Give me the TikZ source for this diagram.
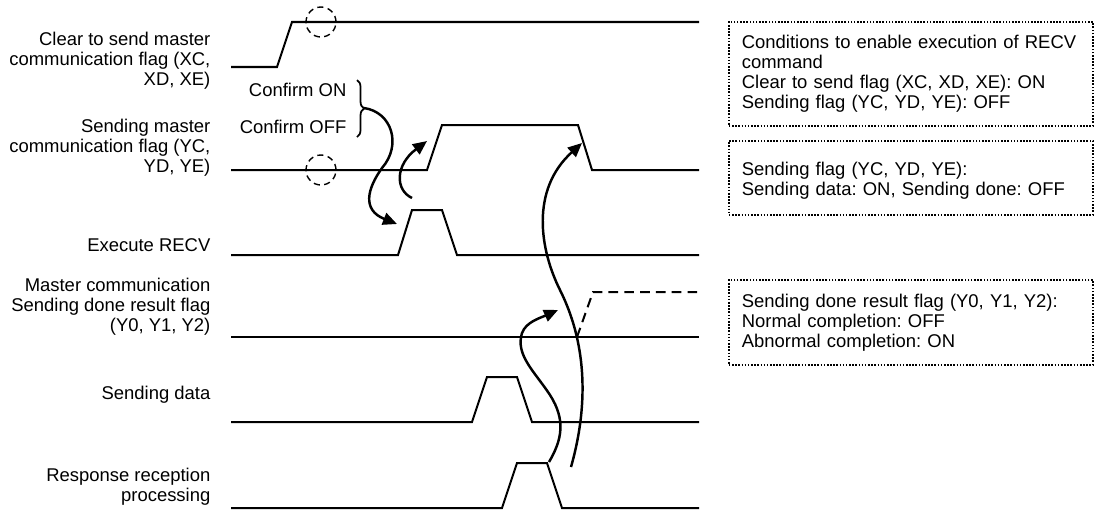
\documentclass[tikz,border=0pt]{standalone}
\usepackage{fontspec}
\setmainfont{Liberation Sans}
\usetikzlibrary{arrows.meta,decorations.pathreplacing,positioning,calc}
\tikzset{every picture/.style={line width=0.75pt}}
\frenchspacing
\tikzset{
  signal/.style={line width=1.15pt, line join=miter},
  flow/.style={line width=1.4pt, -{Triangle[length=8pt,width=7pt]}},
  probe/.style={line width=0.8pt, dash pattern=on 3.5pt off 2.5pt},
  sigtext/.style={anchor=east, align=right, inner sep=0pt,
    font=\fontsize{10.5}{11.4}\selectfont},
  notebox/.style={draw, anchor=north west, line width=1pt,
    dash pattern=on 0.9pt off 0.9pt, inner xsep=0.26cm, inner ysep=0pt,
    text width=6.76cm, align=left, font=\fontsize{10.5}{11.4}\selectfont}
}

\begin{document}
\begin{tikzpicture}[x=0.02cm, y=-0.02cm]
    \useasboundingbox (0,0) rectangle (1095,512);

    % signal names
    \node[sigtext] (ctsname) at (211,61) {Clear to send master\\communication flag (XC,\\XD, XE)};
    \node[sigtext] (sndname) at (211,148) {Sending master\\communication flag (YC,\\YD, YE)};
    \node[sigtext] (recvname) at (211,245) {Execute RECV};
    \node[sigtext] (donename) at (211,307) {Master communication\\Sending done result flag\\(Y0, Y1, Y2)};
    \node[sigtext] (dataname) at (211,395) {Sending data};
    \node[sigtext] (respname) at (211,487) {Response reception\\processing};

    % waveforms
    \draw[signal] (231,67) -- (277,67) -- (292,22) -- (699,22);
    \draw[signal] (231,170) -- (427,170) -- (442,125) -- (578,125) -- (592,170) -- (699,170);
    \draw[signal] (231,255) -- (398,255) -- (412,210) -- (442,210) -- (457,255) -- (699,255);
    \draw[signal] (231,337) -- (699,337);
    \draw[signal, dash pattern=on 5.5pt off 3.5pt] (577,337) -- (593,292) -- (699,292);
    \draw[signal] (231,422) -- (472,422) -- (487,377) -- (517,377) -- (532,422) -- (699,422);
    \draw[signal] (231,508) -- (502,508) -- (517,463) -- (547,463) -- (562,508) -- (699,508);

    % check points
    \draw[probe] (321,22) circle[radius=0.3cm];
    \draw[probe] (321,170) circle[radius=0.3cm];

    % confirm brace
    \node[sigtext] (conon) at (347,90) {Confirm ON};
    \node[sigtext] (conoff) at (347,127) {Confirm OFF};
    \draw[line width=1pt, decorate, decoration={brace, amplitude=4pt}] (357,80) -- (357,137);
    \coordinate (bracetip) at (364,108);

    % arrow ends
    \coordinate (recvrise) at (397,224);
    \coordinate (recvtop) at (412,198);
    \coordinate (sndrise) at (427,141);
    \coordinate (respstart) at (571,467);
    \coordinate (sndfall) at (582,143);
    \coordinate (resptop) at (549,462);
    \coordinate (donerise) at (558,310);

    % cause and effect
    \draw[flow] (bracetip) .. controls (392,112) and (402,145) .. (382,168)
        .. controls (367,189) and (362,210) .. (recvrise);
    \draw[flow] (recvtop) .. controls (395,190) and (395,165) .. (sndrise);
    \draw[flow] (respstart) .. controls (590,400) and (585,340) .. (560,290)
        .. controls (540,250) and (530,190) .. (sndfall);
    \draw[flow] (resptop) .. controls (562,440) and (566,420) .. (550,395)
        .. controls (535,372) and (515,355) .. (522,333)
        .. controls (526,322) and (540,318) .. (donerise);

    % notes
    \node[notebox, minimum height=2.08cm] (condnote) at (728,21)
        {Conditions to enable execution of RECV\\command\\Clear to send flag (XC, XD, XE): ON\\Sending flag (YC, YD, YE): OFF};
    \node[notebox, minimum height=1.48cm] (sndnote) at (728,140)
        {\mbox{}\\Sending flag (YC, YD, YE):\\Sending data: ON, Sending done: OFF};
    \node[notebox, minimum height=1.7cm] (donenote) at (728,279)
        {Sending done result flag (Y0, Y1, Y2):\\Normal completion: OFF\\Abnormal completion: ON};
\end{tikzpicture}
\end{document}
